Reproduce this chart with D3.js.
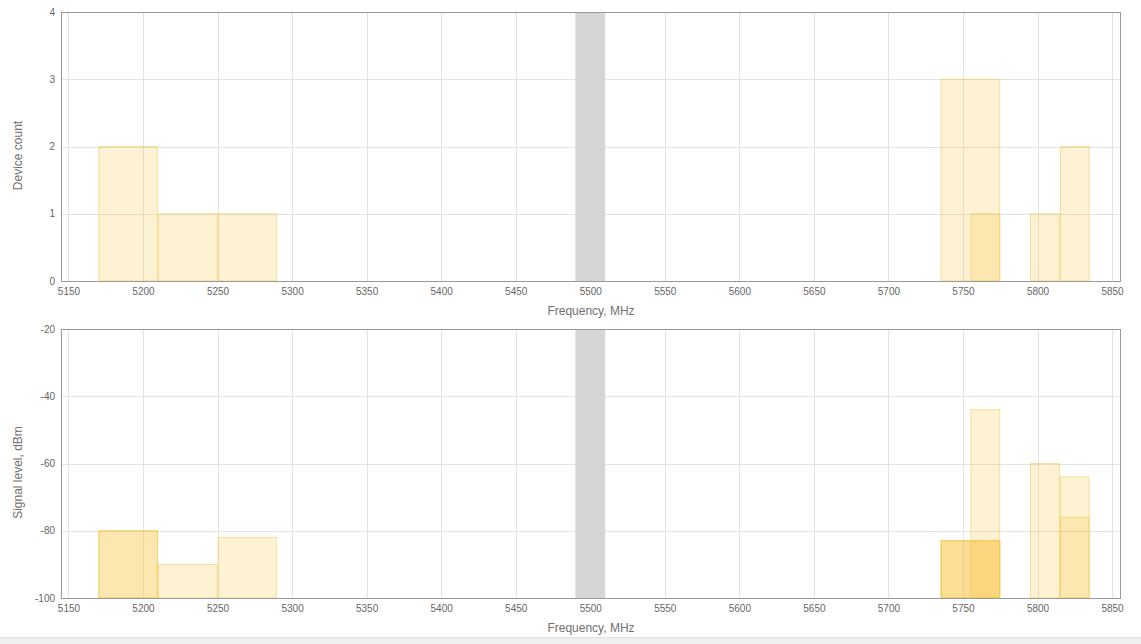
<!DOCTYPE html>
<html>
<head>
<meta charset="utf-8">
<script src="https://cdn.jsdelivr.net/npm/d3@7/dist/d3.min.js"></script>
<style>
  html, body { margin: 0; padding: 0; background: #fff; }
  svg { display: block; font-family: "Liberation Sans", Arial, sans-serif; }
  .tick text { fill: #666; font-size: 10px; }
  .axis-title { fill: #707070; font-size: 12px; }
</style>
</head>
<body>
<svg id="chart" width="1141" height="644"></svg>
<script>
// Frequency axis (MHz)
const freqTicks = [5150, 5200, 5250, 5300, 5350, 5400, 5450, 5500, 5550, 5600, 5650, 5700, 5750, 5800, 5850];

// Occupied band of the radio itself (MHz)
const ownBand = [5490, 5510];

// Device count per channel: channel low edge, high edge, number of devices
const countLow   = [5170, 5210, 5250, 5735, 5755, 5795, 5815];
const countHigh  = [5210, 5250, 5290, 5775, 5775, 5815, 5835];
const countValue = [2, 1, 1, 3, 1, 1, 2];
const countTicks = [0, 1, 2, 3, 4];

// Signal level of each detected device: channel edges and level (dBm)
const sigLow   = [5170, 5170, 5210, 5250, 5735, 5735, 5735, 5755, 5795, 5815, 5815];
const sigHigh  = [5210, 5210, 5250, 5290, 5775, 5775, 5775, 5775, 5815, 5835, 5835];
const sigLevel = [-80, -80, -90, -82, -83, -83, -83, -44, -60, -64, -76];
const sigTicks = [-100, -80, -60, -40, -20];

const svg = d3.select("#chart");

const left = 61, right = 1121;
const x = d3.scaleLinear().domain([5145, 5856]).range([left, right]);

const barFill = "rgba(250, 190, 40, 0.2)";
const barStroke = "rgba(242, 200, 70, 0.5)";

function panel(cfg) {
  const g = svg.append("g");
  const y = d3.scaleLinear().domain(cfg.yDomain).range([cfg.bottom, cfg.top]);

  // grid
  g.append("g").selectAll("line").data(freqTicks).join("line")
    .attr("x1", d => Math.round(x(d)) + 0.5).attr("x2", d => Math.round(x(d)) + 0.5)
    .attr("y1", cfg.top).attr("y2", cfg.bottom)
    .attr("stroke", "#e3e3e3").attr("stroke-width", 1);
  g.append("g").selectAll("line").data(cfg.yTicks).join("line")
    .attr("x1", left).attr("x2", right)
    .attr("y1", d => Math.round(y(d)) + 0.5).attr("y2", d => Math.round(y(d)) + 0.5)
    .attr("stroke", "#e3e3e3").attr("stroke-width", 1);

  // own band
  g.append("rect")
    .attr("x", x(ownBand[0])).attr("width", x(ownBand[1]) - x(ownBand[0]))
    .attr("y", cfg.top).attr("height", cfg.bottom - cfg.top)
    .attr("fill", "#d6d6d6");

  // bars
  g.append("g").selectAll("rect").data(cfg.lows.map((lo, i) => ({lo, hi: cfg.highs[i], v: cfg.values[i]})))
    .join("rect")
    .attr("x", d => x(d.lo) + 0.5)
    .attr("width", d => x(d.hi) - x(d.lo) - 1)
    .attr("y", d => y(d.v))
    .attr("height", d => cfg.bottom - y(d.v))
    .attr("fill", barFill)
    .attr("stroke", barStroke)
    .attr("stroke-width", 1);

  // frame
  g.append("rect")
    .attr("x", left + 0.5).attr("y", cfg.top + 0.5)
    .attr("width", right - left - 1).attr("height", cfg.bottom - cfg.top)
    .attr("fill", "none").attr("stroke", "#9a9a9a").attr("stroke-width", 1);

  // axes
  const fmt = d => String(d);
  const xa = g.append("g").attr("transform", `translate(0,${cfg.bottom})`)
    .call(d3.axisBottom(x).tickValues(freqTicks).tickSize(0).tickPadding(7).tickFormat(fmt));
  xa.select(".domain").remove();
  const ya = g.append("g").attr("transform", `translate(${left},0)`)
    .call(d3.axisLeft(y).tickValues(cfg.yTicks).tickSize(0).tickPadding(6).tickFormat(fmt));
  ya.select(".domain").remove();

  g.append("text").attr("class", "axis-title")
    .attr("x", (left + right) / 2).attr("y", cfg.bottom + 34)
    .attr("text-anchor", "middle").text("Frequency, MHz");
  g.append("text").attr("class", "axis-title")
    .attr("transform", `translate(22,${(cfg.top + cfg.bottom) / 2 + 9}) rotate(-90)`)
    .attr("text-anchor", "middle").text(cfg.yTitle);
}

panel({
  top: 12, bottom: 281, yDomain: [0, 4], yTicks: countTicks,
  lows: countLow, highs: countHigh, values: countValue, yTitle: "Device count"
});
panel({
  top: 329, bottom: 598, yDomain: [-100, -20], yTicks: sigTicks,
  lows: sigLow, highs: sigHigh, values: sigLevel, yTitle: "Signal level, dBm"
});

// footer strip
svg.append("rect").attr("x", 0).attr("y", 638).attr("width", 1141).attr("height", 6).attr("fill", "#efefef");
svg.append("line").attr("x1", 0).attr("x2", 1141).attr("y1", 637.5).attr("y2", 637.5).attr("stroke", "#e2e2e2");
</script>
</body>
</html>
